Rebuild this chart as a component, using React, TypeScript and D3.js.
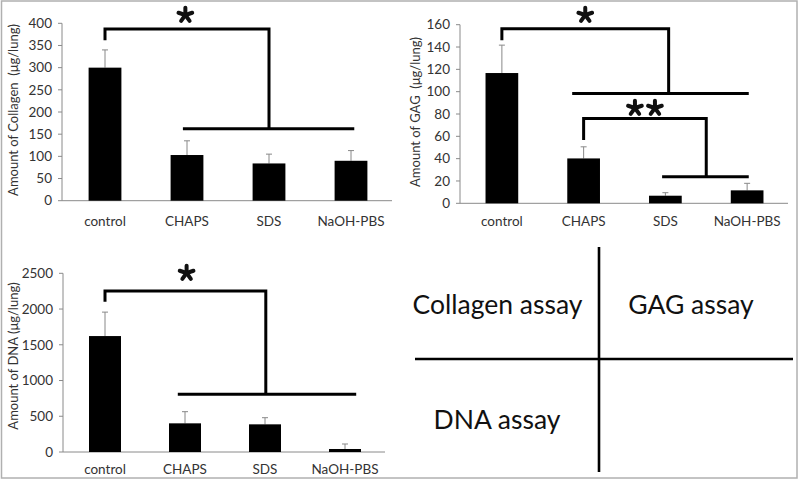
import React from "react";
import * as d3 from "d3";

const categories = ["control", "CHAPS", "SDS", "NaOH-PBS"];

const collagenMeans = [300, 103, 84, 90];
const collagenSD = [40, 32, 21, 23];
const collagenTicks = [0, 50, 100, 150, 200, 250, 300, 350, 400];

const gagMeans = [116.7, 40.2, 6.8, 11.6];
const gagSD = [25, 10.4, 2.7, 6.3];
const gagTicks = [0, 20, 40, 60, 80, 100, 120, 140, 160];

const dnaMeans = [1622, 401, 387, 42];
const dnaSD = [335, 163, 93, 70];
const dnaTicks = [0, 500, 1000, 1500, 2000, 2500];

const legendLabels = ["Collagen assay", "GAG assay", "DNA assay"];

type Bracket = {
  left: number;
  right: number;
  top: number;
  drop: number;
  lowFrom: number;
  lowTo: number;
  low: number;
  star: string;
  starPos: number;
  starY: number;
};

type PanelProps = {
  means: number[];
  sds: number[];
  ticks: number[];
  xRange: [number, number];
  axisX: number;
  axisEnd: number;
  yRange: [number, number];
  labelY: number;
  title: string;
  titleX: number;
  titleY: number;
  brackets: Bracket[];
};

const FONT = "Lato, 'Open Sans', sans-serif";

function Star({ cx, cy }: { cx: number; cy: number }) {
  const r = 7.2;
  const angles = [-90, -18, 54, 126, 198];
  return (
    <g>
      {angles.map((a, i) => {
        const rad = (a * Math.PI) / 180;
        return (
          <line
            key={i}
            x1={cx}
            y1={cy}
            x2={cx + r * Math.cos(rad)}
            y2={cy + r * Math.sin(rad)}
            stroke="#111"
            strokeWidth={4}
            strokeLinecap="round"
          />
        );
      })}
    </g>
  );
}

function Panel(p: PanelProps) {
  const x = d3.scaleBand<string>().domain(categories).range(p.xRange).paddingInner(0.6).paddingOuter(0.3);
  const step = x.step();
  const c0 = (x(categories[0]) as number) + x.bandwidth() / 2;
  const cx = (pos: number) => c0 + pos * step;
  const y = d3.scaleLinear().domain([0, p.ticks[p.ticks.length - 1]]).range(p.yRange);
  const y0 = y(0);
  return (
    <g>
      <line x1={p.axisX} x2={p.axisX} y1={y0} y2={y(p.ticks[p.ticks.length - 1])} stroke="#8a8a8a" strokeWidth={1} />
      <line x1={p.axisX} x2={p.axisEnd} y1={y0} y2={y0} stroke="#8a8a8a" strokeWidth={1} />
      {p.ticks.map((t) => (
        <g key={t}>
          <line x1={p.axisX - 4} x2={p.axisX} y1={y(t)} y2={y(t)} stroke="#8a8a8a" strokeWidth={1} />
          <text x={p.axisX - 10} y={y(t)} dy="0.35em" textAnchor="end" fontFamily={FONT} fontSize={13.5} fill="#333">
            {t}
          </text>
        </g>
      ))}
      {categories.map((c, i) => {
        const bx = x(c) as number;
        const bw = x.bandwidth();
        const mid = bx + bw / 2;
        const top = y(p.means[i] + p.sds[i]);
        return (
          <g key={c}>
            <line x1={mid} x2={mid} y1={y(p.means[i])} y2={top} stroke="#888" strokeWidth={1} />
            <line x1={mid - 3} x2={mid + 3} y1={top} y2={top} stroke="#888" strokeWidth={1} />
            <rect x={bx} y={y(p.means[i])} width={bw} height={y0 - y(p.means[i])} fill="#000" />
            <text x={mid} y={p.labelY} textAnchor="middle" fontFamily={FONT} fontSize={13.5} fill="#333">
              {c}
            </text>
          </g>
        );
      })}
      <text
        transform={`translate(${p.titleX},${p.titleY}) rotate(-90)`}
        textAnchor="middle"
        dy="0.35em"
        fontFamily={FONT}
        fontSize={13}
        fill="#333"
        style={{ whiteSpace: "pre" }}
      >
        {p.title}
      </text>
      {p.brackets.map((b, i) => {
        const d = `M${cx(b.left)},${y(b.drop)} V${y(b.top)} H${cx(b.right)} V${y(b.low)}`;
        const starXs = b.star.length === 1 ? [cx(b.starPos)] : [cx(b.starPos) - 10, cx(b.starPos) + 10];
        return (
          <g key={i}>
            <path d={d} fill="none" stroke="#000" strokeWidth={3} />
            <line x1={cx(b.lowFrom)} x2={cx(b.lowTo)} y1={y(b.low)} y2={y(b.low)} stroke="#000" strokeWidth={3} />
            {starXs.map((sx, k) => (
              <Star key={k} cx={sx} cy={b.starY} />
            ))}
          </g>
        );
      })}
    </g>
  );
}

export default function App() {
  return (
    <div style={{ position: "absolute", left: 0, top: 0 }}>
      <svg width={800} height={483} viewBox="0 0 800 483" style={{ display: "block", background: "#fff" }}>
        <rect x={0} y={0} width={800} height={483} fill="#fff" />
        <rect x={1.5} y={1} width={795.5} height={477} fill="none" stroke="#b0b0b0" strokeWidth={1.5} />
        <Panel
          means={collagenMeans}
          sds={collagenSD}
          ticks={collagenTicks}
          xRange={[64, 392]}
          axisX={62}
          axisEnd={392}
          yRange={[200.7, 23.3]}
          labelY={226}
          title={"Amount of Collagen  (μg/lung)"}
          titleX={13}
          titleY={110}
          brackets={[
            { left: 0, right: 2, top: 387, drop: 362, lowFrom: 0.95, lowTo: 3.04, low: 162, star: "*", starPos: 0.98, starY: 15 },
          ]}
        />
        <Panel
          means={gagMeans}
          sds={gagSD}
          ticks={gagTicks}
          xRange={[461, 788]}
          axisX={460}
          axisEnd={788}
          yRange={[203.3, 24.7]}
          labelY={226}
          title={"Amount of GAG  (μg/lung)"}
          titleX={415}
          titleY={112}
          brackets={[
            { left: 0, right: 2.04, top: 156.4, drop: 146, lowFrom: 0.86, lowTo: 3.02, low: 98.3, star: "*", starPos: 1.02, starY: 15 },
            { left: 1, right: 2.5, top: 76, drop: 56.6, lowFrom: 1.96, lowTo: 3.02, low: 23.8, star: "**", starPos: 1.75, starY: 108 },
          ]}
        />
        <Panel
          means={dnaMeans}
          sds={dnaSD}
          ticks={dnaTicks}
          xRange={[65, 385]}
          axisX={63}
          axisEnd={385}
          yRange={[452, 273.3]}
          labelY={474}
          title={"Amount of DNA (μg/lung)"}
          titleX={13}
          titleY={356}
          brackets={[
            { left: 0, right: 2.01, top: 2252, drop: 2102, lowFrom: 0.91, lowTo: 3.14, low: 807, star: "*", starPos: 1.02, starY: 273 },
          ]}
        />
        <line x1={599} x2={599} y1={247} y2={472} stroke="#000" strokeWidth={2.6} />
        <line x1={415} x2={793} y1={359} y2={359} stroke="#000" strokeWidth={2.6} />
        <text x={497.5} y={305} dy="0.35em" textAnchor="middle" fontFamily={FONT} fontSize={26.5} fill="#111">
          {legendLabels[0]}
        </text>
        <text x={691} y={305} dy="0.35em" textAnchor="middle" fontFamily={FONT} fontSize={26.5} fill="#111">
          {legendLabels[1]}
        </text>
        <text x={497} y={420} dy="0.35em" textAnchor="middle" fontFamily={FONT} fontSize={26.5} fill="#111">
          {legendLabels[2]}
        </text>
      </svg>
    </div>
  );
}
